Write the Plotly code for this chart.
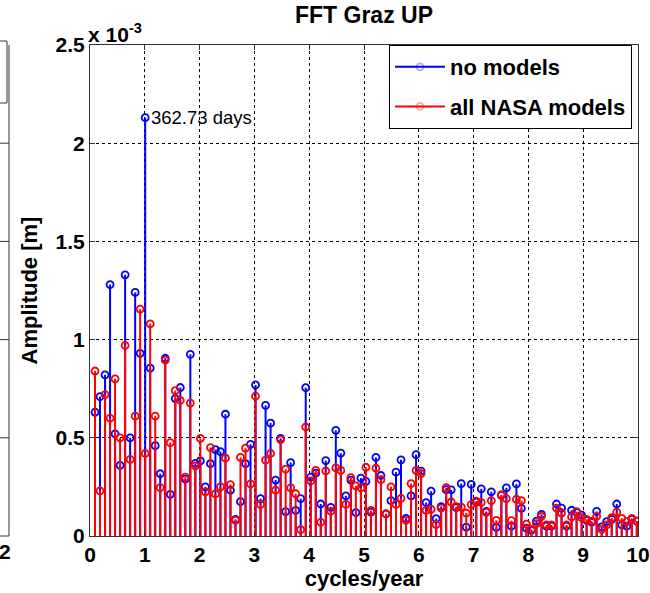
import numpy as np
import plotly.graph_objects as go

# FFT bin spacing: 1 / record length (years)
record_years = 10.924

# Amplitude spectra, units of 1e-3 m, bins k = 1 .. 109
no_models = [
    0.63, 0.71, 0.82, 1.28, 0.52, 0.36, 1.33, 0.50, 1.24, 0.93,
    2.13, 0.855, 0.46, 0.317, 0.905, 0.212, 0.70, 0.756, 0.29, 0.925,
    0.37, 0.382, 0.25, 0.368, 0.44, 0.43, 0.62, 0.233, 0.085, 0.175,
    0.368, 0.467, 0.769, 0.19, 0.665, 0.575, 0.285, 0.497, 0.124, 0.374,
    0.13, 0.19, 0.755, 0.30, 0.32, 0.163, 0.384, 0.146, 0.538, 0.422,
    0.204, 0.285, 0.119, 0.295, 0.278, 0.122, 0.40, 0.308, 0.112, 0.18,
    0.325, 0.388, 0.09, 0.204, 0.414, 0.33, 0.17, 0.228, 0.088, 0.15,
    0.236, 0.235, 0.145, 0.267, 0.045, 0.263, 0.172, 0.24, 0.125, 0.225,
    0.044, 0.207, 0.245, 0.05, 0.265, 0.141, 0.04, 0.029, 0.076, 0.11,
    0.05, 0.05, 0.163, 0.142, 0.05, 0.131, 0.12, 0.107, 0.08, 0.07,
    0.125, 0.046, 0.073, 0.085, 0.163, 0.056, 0.05, 0.085, 0.076,
]
nasa_models = [
    0.84, 0.23, 0.72, 0.60, 0.80, 0.50, 0.97, 0.39, 0.61, 1.155,
    0.42, 1.08, 0.61, 0.246, 0.895, 0.475, 0.74, 0.69, 0.30, 0.677,
    0.357, 0.497, 0.225, 0.45, 0.214, 0.25, 0.396, 0.262, 0.08, 0.40,
    0.447, 0.265, 0.712, 0.16, 0.386, 0.42, 0.233, 0.49, 0.34, 0.245,
    0.215, 0.032, 0.555, 0.28, 0.334, 0.07, 0.331, 0.126, 0.347, 0.334,
    0.161, 0.297, 0.255, 0.245, 0.35, 0.13, 0.345, 0.287, 0.114, 0.25,
    0.161, 0.192, 0.08, 0.267, 0.334, 0.318, 0.13, 0.136, 0.058, 0.142,
    0.246, 0.173, 0.15, 0.147, 0.117, 0.16, 0.178, 0.17, 0.12, 0.18,
    0.08, 0.21, 0.19, 0.078, 0.187, 0.18, 0.06, 0.034, 0.063, 0.10,
    0.056, 0.056, 0.142, 0.117, 0.056, 0.097, 0.124, 0.093, 0.085, 0.076,
    0.10, 0.034, 0.056, 0.093, 0.122, 0.09, 0.073, 0.09, 0.076,
]

x_ticks = [0, 1, 2, 3, 4, 5, 6, 7, 8, 9, 10]
y_ticks = [0, 0.5, 1, 1.5, 2, 2.5]
y_tick_labels = ["0", "0.5", "1", "1.5", "2", "2.5"]

freq = np.arange(1, len(no_models) + 1) / record_years

FONT = "Liberation Sans, Arial, sans-serif"


def bold(size):
    return dict(family=FONT, size=size, color="black", weight="bold")


def stem_trace(x, y, color, name):
    """One trace per series: vertical stems from zero, open circle on top."""
    xs, ys, op = [], [], []
    for xi, yi in zip(x, y):
        xs += [xi, xi, None]
        ys += [yi, 0, None]
        op += [1, 0, 0]
    return go.Scatter(
        x=xs, y=ys, mode="lines+markers", name=name, legendgroup=name,
        line=dict(color=color, width=2),
        marker=dict(symbol="circle-open", size=7, color=color,
                    line=dict(width=1.8, color=color), opacity=op),
        connectgaps=False,
    )


fig = go.Figure()
fig.add_trace(stem_trace(freq, no_models, "#0000ff", "no models"))
fig.add_trace(stem_trace(freq, nasa_models, "#ff0000", "all NASA models"))

# Period label for the annual peak
peak = int(np.argmax(no_models))
peak_days = 365.25 / freq[peak]
fig.add_annotation(
    x=freq[peak], y=no_models[peak], text=f"{peak_days:.2f} days",
    showarrow=False, xanchor="left", yanchor="middle", xshift=4,
    font=dict(family=FONT, size=18.5, color="black"),
)

# Axis exponent label
fig.add_annotation(
    xref="paper", yref="paper", x=0.0, y=1.0, xanchor="left", yanchor="bottom",
    text="x 10<sup>-3</sup>", showarrow=False, yshift=-3, xshift=-4,
    font=bold(21),
)

# Edge of the neighbouring panel on the left
W, H, L, R, B, T = 650, 593, 90, 12, 57, 45
plot_w, plot_h = W - L - R, H - B - T


def px(xp):
    return (xp - L) / plot_w


def py(yp):
    return (H - B - yp) / plot_h


edge = dict(color="#333333", width=1)
fig.add_shape(type="line", xref="paper", yref="paper",
              x0=px(9), x1=px(9), y0=py(T), y1=py(H - B), line=edge)
fig.add_shape(type="line", xref="paper", yref="paper",
              x0=px(-2), x1=px(9), y0=py(H - B), y1=py(H - B), line=edge)
fig.add_shape(type="rect", xref="paper", yref="paper",
              x0=px(-10), x1=px(7), y0=py(41), y1=py(103), line=edge)
for yv in y_ticks[1:-1]:
    ypix = H - B - yv * plot_h / 2.5
    fig.add_shape(type="line", xref="paper", yref="paper",
                  x0=px(0), x1=px(9), y0=py(ypix), y1=py(ypix), line=edge)
fig.add_annotation(
    xref="paper", yref="paper", x=px(13), y=py(H - B + 2),
    xanchor="right", yanchor="top", text="2", showarrow=False,
    font=bold(21),
)

axis_common = dict(
    showline=True, linecolor="#333333", linewidth=1, mirror="allticks",
    ticks="inside", ticklen=5, tickcolor="#333333",
    showgrid=True, gridcolor="black", gridwidth=1, griddash="3px,3px",
    zeroline=False, automargin=False,
    tickfont=bold(21),
)

fig.update_layout(
    width=W, height=H,
    margin=dict(l=L, r=R, t=T, b=B, autoexpand=False),
    paper_bgcolor="white", plot_bgcolor="white",
    title=dict(text="FFT Graz UP", x=0.5, xref="paper", y=1 - 15 / H,
               yref="container", yanchor="middle", font=bold(23)),
    xaxis=dict(range=[0, 10], tickvals=x_ticks, ticklabelstandoff=0,
               title=dict(text="cycles/year", standoff=0, font=bold(22)),
               **axis_common),
    yaxis=dict(range=[0, 2.5], tickvals=y_ticks, ticktext=y_tick_labels,
               title=dict(text="Amplitude [m]", standoff=11, font=bold(22)),
               **axis_common),
    legend=dict(x=0.989, y=1.0, xanchor="right", yanchor="top",
                bgcolor="white", bordercolor="black", borderwidth=1,
                itemwidth=50, tracegroupgap=8, traceorder="grouped",
                font=bold(22)),
    showlegend=True,
)

fig.write_html("out.html")
